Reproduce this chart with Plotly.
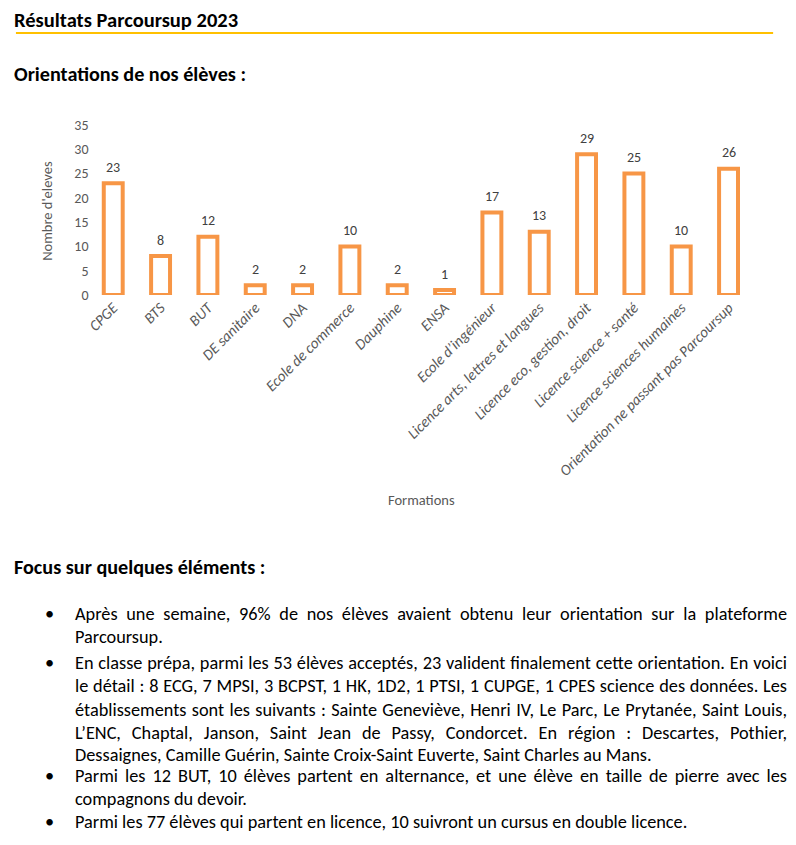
import json
import plotly.graph_objects as go

categories = ["CPGE", "BTS", "BUT", "DE sanitaire", "DNA", "Ecole de commerce", "Dauphine",
              "ENSA", "Ecole d’ingénieur", "Licence arts, lettres et langues",
              "Licence eco, gestion, droit", "Licence science + santé",
              "Licence sciences humaines", "Orientation ne passant pas Parcoursup"]
values = [23, 8, 12, 2, 2, 10, 2, 1, 17, 13, 29, 25, 10, 26]
y_ticks = [0, 5, 10, 15, 20, 25, 30, 35]

page_title = "Résultats Parcoursup 2023"
chart_heading = "Orientations de nos élèves :"
focus_heading = "Focus sur quelques éléments :"
x_title = "Formations"
y_title = "Nombre d'eleves"

# bullets: list of lines, last line of each bullet is not justified
bullets = [
    ["Après une semaine, 96% de nos élèves avaient obtenu leur orientation sur la plateforme",
     "Parcoursup."],
    ["En classe prépa, parmi les 53 élèves acceptés, 23 valident finalement cette orientation. En voici",
     "le détail : 8 ECG, 7 MPSI, 3 BCPST, 1 HK, 1D2, 1 PTSI, 1 CUPGE, 1 CPES science des données. Les",
     "établissements sont les suivants : Sainte Geneviève, Henri IV, Le Parc, Le Prytanée, Saint Louis,",
     "L’ENC, Chaptal, Janson, Saint Jean de Passy, Condorcet. En région : Descartes, Pothier,",
     "Dessaignes, Camille Guérin, Sainte Croix-Saint Euverte, Saint Charles au Mans."],
    ["Parmi les 12 BUT, 10 élèves partent en alternance, et une élève en taille de pierre avec les",
     "compagnons du devoir."],
    ["Parmi les 77 élèves qui partent en licence, 10 suivront un cursus en double licence."],
]
line_y = [[614, 637], [663, 686, 710, 733, 755], [776, 799], [822]]

W, H = 796, 845
# page positions (pixels in the target picture) -> paper fractions
def pxa(x): return (x - 4) / W        # for left-anchored text annotations
def pxr(x): return x / W              # for domains and shapes
def py(y): return 1 - ((y - 8) / 0.98) / H

FONT = "Carlito, Lato, sans-serif"
ORANGE = "#F79646"
GREY = "#595959"
BODY = 18.3

fig = go.Figure()
fig.add_trace(go.Bar(
    x=categories, y=values, width=0.4,
    marker=dict(color="white", line=dict(color=ORANGE, width=4)),
    cliponaxis=False, hoverinfo="x+y",
))

ann = []
# data labels, positioned in data coordinates
for c, v in zip(categories, values):
    ann.append(dict(text=str(v), x=c, y=v, xref="x", yref="y", yanchor="middle",
                    xanchor="center", yshift=16,
                    font=dict(family=FONT, size=14, color="#404040")))

ann.append(dict(text=page_title, x=pxa(12), y=py(20), xanchor="left", yanchor="middle",
                font=dict(family=FONT, size=20.5, color="black", weight="bold")))
ann.append(dict(text=chart_heading, x=pxa(12), y=py(74), xanchor="left", yanchor="middle",
                font=dict(family=FONT, size=20.2, color="black", weight="bold")))
ann.append(dict(text=focus_heading, x=pxa(12), y=py(567), xanchor="left", yanchor="middle",
                font=dict(family=FONT, size=20.2, color="black", weight="bold")))
ann.append(dict(text=x_title, x=pxr(420), y=py(500), xanchor="center", yanchor="middle",
                font=dict(family=FONT, size=14.5, color=GREY)))
ann.append(dict(text=y_title, x=pxr(43), y=py(211), xanchor="center", yanchor="middle",
                textangle=-90, font=dict(family=FONT, size=14.5, color=GREY)))

justify = []
for lines, ys in zip(bullets, line_y):
    ann.append(dict(text="•", x=pxa(43), y=py(ys[0]), xanchor="left", yanchor="middle",
                    font=dict(family=FONT, size=BODY, color="black")))
    for i, (ln, yy) in enumerate(zip(lines, ys)):
        ann.append(dict(text=ln, x=pxa(73), y=py(yy), xanchor="left", yanchor="middle",
                        align="left", font=dict(family=FONT, size=BODY, color="black")))
        if i < len(lines) - 1:
            justify.append(ln)

for a in ann:
    a.setdefault("xref", "paper")
    a.setdefault("yref", "paper")
    a["showarrow"] = False

fig.update_layout(
    width=W, height=H, margin=dict(l=0, r=0, t=0, b=0),
    paper_bgcolor="white", plot_bgcolor="white", showlegend=False,
    annotations=ann,
    shapes=[dict(type="line", xref="paper", yref="paper", x0=pxr(12), x1=pxr(773),
                 y0=py(33), y1=py(33), line=dict(color="#FFC000", width=2))],
    xaxis=dict(domain=[pxr(86), pxr(752)], tickangle=-45, showline=False, showgrid=False,
               ticks="", tickfont=dict(family=FONT, size=15.2, color=GREY, style="italic")),
    yaxis=dict(domain=[py(295), py(125)], range=[0, 35], tickvals=y_ticks, showgrid=False,
               showline=False, zeroline=False, ticks="",
               tickfont=dict(family=FONT, size=14, color=GREY)),
)

post = """
document.documentElement.style.margin = '0';
document.documentElement.style.overflow = 'hidden';
document.body.style.margin = '0';
document.body.style.overflow = 'hidden';
var gd = document.querySelector('.plotly-graph-div');
gd.style.position = 'fixed';
gd.style.left = '0px';
gd.style.top = '0px';
var targets = %s;
var TW = 712;
document.querySelectorAll('text.annotation-text').forEach(function(t){
  var s = t.textContent;
  if (targets.indexOf(s) >= 0) {
    var n = (s.match(/ /g) || []).length;
    var len = t.getComputedTextLength();
    if (n > 0) { t.style.wordSpacing = ((TW - len) / n) + 'px'; }
  }
});
""" % json.dumps(justify)

fig.write_html("out.html", post_script=post, config={"displayModeBar": False})
